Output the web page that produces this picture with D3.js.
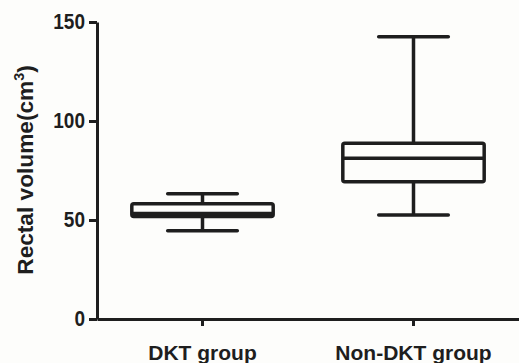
<!DOCTYPE html>
<html>
<head>
<meta charset="utf-8">
<script src="https://cdn.jsdelivr.net/npm/d3@7"></script>
<style>
  body { margin: 0; background: #fdfdfb; }
  svg { display: block; }
  text { font-family: "Liberation Sans", Arial, sans-serif; font-weight: bold; fill: #1e1e1e; }
</style>
</head>
<body>
<svg id="chart"></svg>
<script>
const groups = ["DKT group", "Non-DKT group"];
const whiskerLow = [44.6, 52.5];
const q1 = [51.8, 69.3];
const median = [53.3, 81.2];
const q3 = [58.2, 88.7];
const whiskerHigh = [63.3, 142.6];
const yTicks = [0, 50, 100, 150];

const width = 519, height = 363;
const margin = {top: 22, right: 0, bottom: 44, left: 97};
const ink = "#1e1e1e";

const svg = d3.select("#chart")
  .attr("width", width)
  .attr("height", height);

const x = d3.scaleBand()
  .domain(groups)
  .range([margin.left, width - margin.right])
  .padding(0);

const y = d3.scaleLinear()
  .domain([0, 150])
  .range([height - margin.bottom, margin.top]);

const boxes = groups.map((g, i) => ({
  group: g, lo: whiskerLow[i], q1: q1[i], med: median[i], q3: q3[i], hi: whiskerHigh[i]
}));

// axes
const yAxisG = svg.append("g")
  .attr("transform", `translate(${margin.left},0)`)
  .call(d3.axisLeft(y).tickValues(yTicks).tickSize(8).tickSizeOuter(0));

const xAxisG = svg.append("g")
  .attr("transform", `translate(0,${height - margin.bottom})`)
  .call(d3.axisBottom(x).tickSize(7).tickSizeOuter(0));

[yAxisG, xAxisG].forEach(g => {
  g.select(".domain").attr("stroke", ink).attr("stroke-width", 3);
  g.selectAll(".tick line").attr("stroke", ink).attr("stroke-width", 3);
});
// tick labels in the source are a bit taller than wide
yAxisG.selectAll(".tick text")
  .attr("font-size", 19)
  .attr("x", null).attr("dy", null)
  .attr("transform", "translate(-12,6.3) scale(1,1.18)");
xAxisG.selectAll(".tick text").attr("font-size", 21).attr("y", 41).attr("dy", 0);

// y label
svg.append("text")
  .attr("transform", `translate(33,170) rotate(-90) scale(1.03,1)`)
  .attr("text-anchor", "middle")
  .attr("font-size", 22)
  .html('Rectal volume(cm<tspan dy="-9" font-size="14">3</tspan><tspan dy="9">)</tspan>');

// boxes
const bw = x.bandwidth() * 0.67;
const cw = x.bandwidth() * 0.33;
const box = svg.append("g")
  .attr("stroke", ink)
  .attr("stroke-width", 3.5)
  .attr("fill", "none")
  .selectAll("g")
  .data(boxes)
  .join("g")
  .attr("transform", d => `translate(${x(d.group) + x.bandwidth() / 2},0)`);

box.append("line")
  .attr("y1", d => y(d.hi)).attr("y2", d => y(d.q3));
box.append("line")
  .attr("y1", d => y(d.q1)).attr("y2", d => y(d.lo));
box.append("line")
  .attr("stroke-linecap", "round")
  .attr("x1", -cw / 2).attr("x2", cw / 2)
  .attr("y1", d => y(d.hi)).attr("y2", d => y(d.hi));
box.append("line")
  .attr("stroke-linecap", "round")
  .attr("x1", -cw / 2).attr("x2", cw / 2)
  .attr("y1", d => y(d.lo)).attr("y2", d => y(d.lo));
box.append("rect")
  .attr("x", -bw / 2)
  .attr("width", bw)
  .attr("y", d => y(d.q3))
  .attr("height", d => y(d.q1) - y(d.q3))
  .attr("rx", 2)
  .attr("fill", "#fdfdfb");
box.append("line")
  .attr("x1", -bw / 2).attr("x2", bw / 2)
  .attr("y1", d => y(d.med)).attr("y2", d => y(d.med));
</script>
</body>
</html>
